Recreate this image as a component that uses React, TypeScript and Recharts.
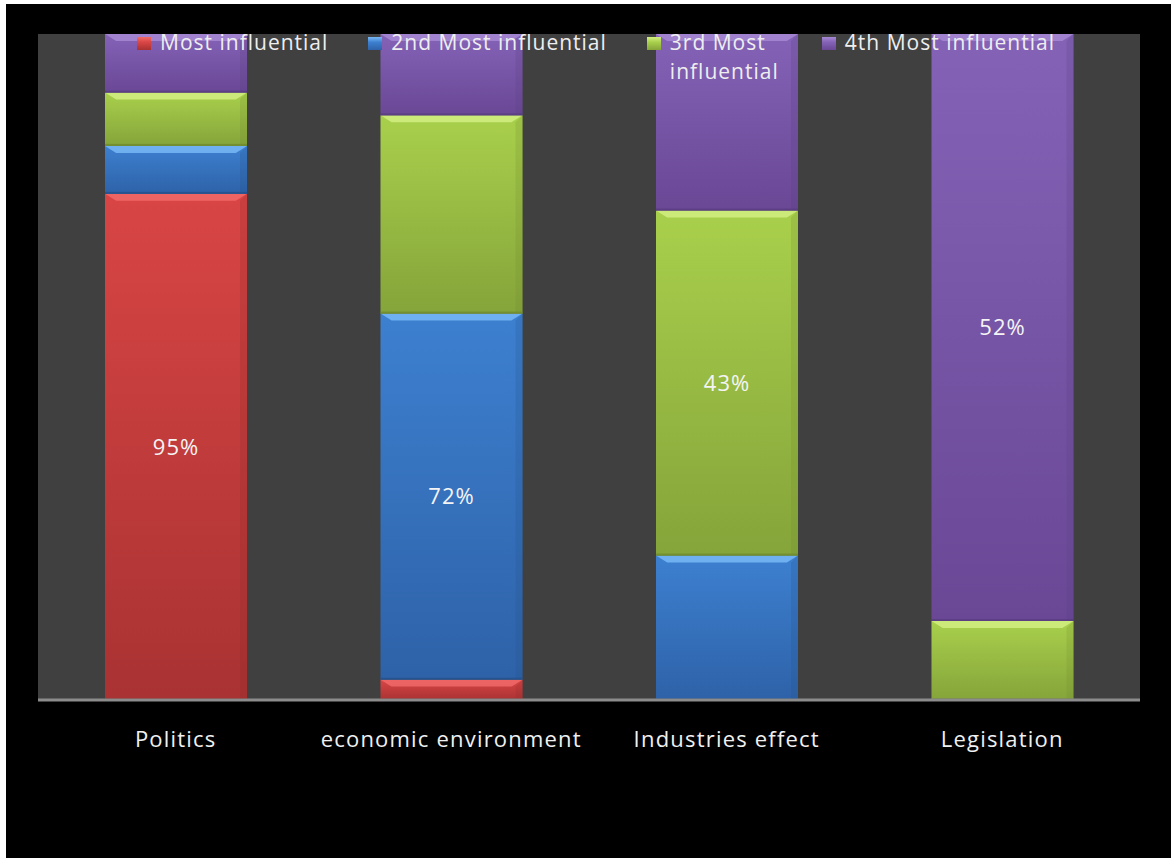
import React from 'react';
import {
  BarChart,
  Bar,
  XAxis,
  YAxis,
  CartesianGrid,
  Legend,
  LabelList
} from 'recharts';

const categories = ['Politics', 'economic environment', 'Industries effect', 'Legislation'];
const mostInfluential = [95, 4, 0, 0];
const secondMost = [9, 72, 18, 0];
const thirdMost = [10, 39, 43, 7];
const fourthMost = [11, 16, 22, 52];

const series = [
  { key: 'most', name: 'Most influential', values: mostInfluential, top: '#d94545', bottom: '#a93232', bevel: '#f06a68', edge: '#8c2626' },
  { key: 'second', name: '2nd Most influential', values: secondMost, top: '#3d80d0', bottom: '#2e62a8', bevel: '#78b8f6', edge: '#244f88' },
  { key: 'third', name: '3rd Most influential', values: thirdMost, top: '#a9d04c', bottom: '#85a43a', bevel: '#d2ee82', edge: '#6c862c' },
  { key: 'fourth', name: '4th Most influential', values: fourthMost, top: '#8462b6', bottom: '#6a4896', bevel: '#a688d4', edge: '#553a7c' },
];

// one row per category, the biggest segment of each bar gets its % label
const data = categories.map((name, i) => {
  const row: Record<string, string | number> = { name };
  const max = Math.max(...series.map((s) => s.values[i]));
  series.forEach((s) => {
    row[s.key] = s.values[i];
    row[s.key + 'Label'] = s.values[i] === max ? `${s.values[i]}%` : '';
  });
  return row;
});

const FONT = '"Open Sans", Lato, sans-serif';

const BevelBar = (props: any) => {
  const { x, y, width, height, s } = props;
  if (!height || height <= 0) return null;
  const b = Math.min(7, height / 3);
  return (
    <g>
      <rect x={x} y={y} width={width} height={height} fill={`url(#grad-${s.key})`} />
      <polygon
        points={`${x},${y} ${x + width},${y} ${x + width - b * 1.6},${y + b} ${x + b * 1.6},${y + b}`}
        fill={s.bevel}
        opacity={0.85}
      />
      <polygon
        points={`${x + width},${y} ${x + width - b},${y + b} ${x + width - b},${y + height - 2} ${x + width},${y + height}`}
        fill={s.edge}
        opacity={0.2}
      />
      <rect x={x} y={y + height - 2} width={width} height={2} fill={s.edge} opacity={0.7} />
    </g>
  );
};

const renderLegend = () => (
  <div
    style={{
      display: 'flex',
      alignItems: 'flex-start',
      paddingLeft: 131,
      paddingTop: 24,
      fontFamily: FONT,
      fontSize: 21,
      letterSpacing: 1,
      lineHeight: '29px',
      color: '#eeeeee',
    }}
  >
    {series.map((s, i) => (
      <div key={s.key} style={{ display: 'flex', alignItems: 'flex-start', marginRight: 40 }}>
        <div
          style={{
            width: 14,
            height: 13,
            marginTop: 9,
            marginRight: 9,
            background: `linear-gradient(${s.bevel}, ${s.top} 40%, ${s.bottom})`,
          }}
        />
        <div style={{ width: i === 2 ? 112 : 'auto', whiteSpace: i === 2 ? 'normal' : 'nowrap' }}>{s.name}</div>
      </div>
    ))}
  </div>
);

export default function App() {
  return (
    <div style={{ position: 'absolute', left: 0, top: 0, width: 1174, height: 858, background: '#ffffff' }}>
      <div style={{ position: 'absolute', left: 6, top: 4, width: 1165, height: 854, background: '#000000' }}>
        <BarChart
          width={1165}
          height={854}
          data={data}
          stackOffset="expand"
          margin={{ top: 30, right: 31, left: 32, bottom: 98 }}
        >
          <defs>
            {series.map((s) => (
              <linearGradient key={s.key} id={`grad-${s.key}`} x1="0" y1="0" x2="0" y2="1">
                <stop offset="0%" stopColor={s.top} />
                <stop offset="100%" stopColor={s.bottom} />
              </linearGradient>
            ))}
          </defs>
          <CartesianGrid fill="#404040" stroke="none" horizontal={false} vertical={false} />
          <XAxis
            dataKey="name"
            height={60}
            tickLine={false}
            tickSize={0}
            tickMargin={31}
            axisLine={{ stroke: '#8c8c8c', strokeWidth: 3 }}
            tick={{ fill: '#f0f0f0', fontSize: 22, fontFamily: FONT, letterSpacing: 1.2 }}
          />
          <YAxis hide domain={[0, 1]} />
          <Legend verticalAlign="middle" align="center" layout="horizontal" content={renderLegend} wrapperStyle={{ top: 0, left: 0, width: 1165 }} />
          {series.map((s) => (
            <Bar
              key={s.key}
              dataKey={s.key}
              name={s.name}
              stackId="a"
              barSize={142}
              fill={s.top}
              isAnimationActive={false}
              shape={(p: any) => <BevelBar {...p} s={s} />}
            >
              <LabelList
                dataKey={s.key + 'Label'}
                position="center"
                fill="#f4f4f4"
                style={{ fontSize: 22, fontFamily: FONT, letterSpacing: 1 }}
              />
            </Bar>
          ))}
        </BarChart>
      </div>
    </div>
  );
}
